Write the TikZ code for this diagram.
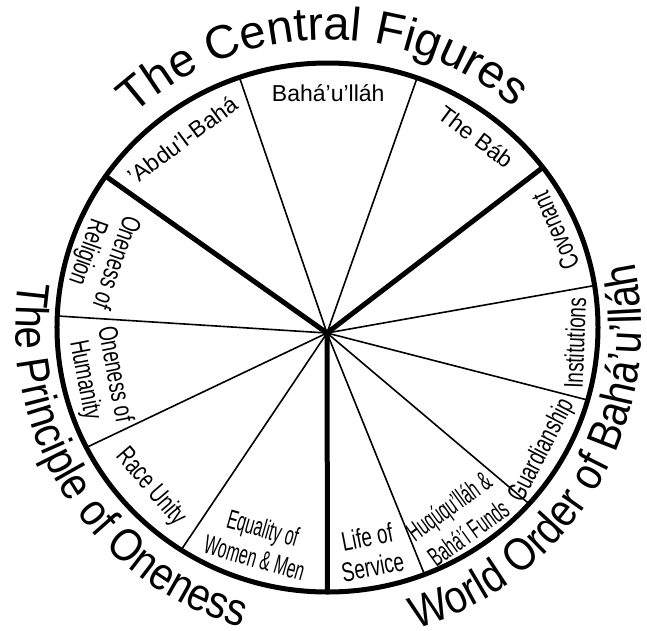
\documentclass[tikz,border=0pt]{standalone}
\usepackage{fontspec}
\setmainfont{Liberation Sans}
\newfontfamily\narrowsf{Liberation Sans}[FakeStretch=0.70]
\newfontfamily\narrowersf{Liberation Sans}[FakeStretch=0.58]
\newfontfamily\arcsf{Liberation Sans}[FakeStretch=0.87]
\newcommand\toparcfont{\fontsize{47}{50}\selectfont}
\newcommand\lowarcfont{\arcsf\fontsize{46}{50}\selectfont}
\usetikzlibrary{calc,decorations.text}

\begin{document}
\begin{tikzpicture}[
        x=1pt, y=1pt,
        rim/.style={line width=5pt},
        mainspoke/.style={line width=5pt},
        spoke/.style={line width=1.6pt},
        toplbl/.style={font=\fontsize{23}{26}\selectfont, inner sep=0pt},
        lbl/.style={font=\narrowsf\fontsize{27}{30}\selectfont, align=center, inner sep=0pt},
        tightlbl/.style={font=\narrowersf\fontsize{27}{31}\selectfont, align=center, inner sep=0pt}
    ]
        \useasboundingbox (-327,-297) rectangle (320,333);

        % Hub and wheel centre
        \coordinate (hub) at (0,0);
        \coordinate (c) at (0.5,5.5);

        % Spoke ends on the rim
        \coordinate (end1) at ($(c)+(145.1:270.5pt and 264.5pt)$);
        \coordinate (end2) at ($(c)+(109.0:270.5pt and 264.5pt)$);
        \coordinate (end3) at ($(c)+(70.66:270.5pt and 264.5pt)$);
        \coordinate (end4) at ($(c)+(37.24:270.5pt and 264.5pt)$);
        \coordinate (end5) at ($(c)+(9.13:270.5pt and 264.5pt)$);
        \coordinate (end6) at ($(c)+(-15.92:270.5pt and 264.5pt)$);
        \coordinate (end7) at ($(c)+(-41.81:270.5pt and 264.5pt)$);
        \coordinate (end8) at ($(c)+(-68.99:270.5pt and 264.5pt)$);
        \coordinate (end9) at ($(c)+(-90:270.5pt and 264.5pt)$);
        \coordinate (end10) at ($(c)+(237.25:270.5pt and 264.5pt)$);
        \coordinate (end11) at ($(c)+(206.97:270.5pt and 264.5pt)$);
        \coordinate (end12) at ($(c)+(177.5:270.5pt and 264.5pt)$);

        % Spokes
        \draw[spoke] (hub) -- (end2);
        \draw[spoke] (hub) -- (end3);
        \draw[spoke] (hub) -- (end5);
        \draw[spoke] (hub) -- (end6);
        \draw[spoke] (hub) -- (end7);
        \draw[spoke] (hub) -- (end8);
        \draw[spoke] (hub) -- (end10);
        \draw[spoke] (hub) -- (end11);
        \draw[spoke] (hub) -- (end12);
        \draw[mainspoke] (hub) -- (end1);
        \draw[mainspoke] (hub) -- (end4);
        \draw[mainspoke] (hub) -- (end9);

        % Rim
        \draw[rim] (c) ellipse [x radius=270.5pt, y radius=264.5pt];

        % Sector labels
        \node[toplbl, rotate=36.8] (abdul) at (126.8:241) {’Abdu’l-Bahá};
        \node[toplbl] (bahaullah) at (89.7:240) {Bahá’u’lláh};
        \node[toplbl, rotate=-37] (bab) at (52.8:246.5) {The Báb};
        \node[lbl, rotate=113.8] (covenant) at (24.1:250) {Covenant};
        \node[lbl, rotate=87.85] (institutions) at (-2.3:248) {Institutions};
        \node[lbl, rotate=62.7] (guardianship) at (-28.7:245) {Guardianship};
        \node[tightlbl, rotate=35.9, font=\narrowersf\fontsize{27}{33}\selectfont] (huquq) at (-54.8:228) {Huqúqu’lláh \&\\Bahá’í Funds};
        \node[lbl, rotate=11] (service) at (-78.9:223) {Life of\\Service};
        \node[tightlbl, rotate=-16] (equality) at (252:220.5) {Equality of\\Women \& Men};
        \node[lbl, rotate=-49.25] (race) at (221.2:234) {Race Unity};
        \node[lbl, rotate=-79.1] (humanity) at (191:232) {Oneness of\\Humanity};
        \node[lbl, rotate=-109.5] (religion) at (161.4:238.5) {Oneness of\\Religion};

        % Titles round the rim
        \path[decorate, decoration={text along path, text align=center,
            text={|\toparcfont|The Central Figures}}]
            (c) ++(181:288pt) arc[start angle=181, end angle=1, radius=288pt];
        \path[decorate, decoration={text along path, text align=center,
            text={|\lowarcfont|The Principle of Oneness}}]
            (c) ++(152.7:312pt) arc[start angle=152.7, end angle=272.7, radius=312pt];
        \path[decorate, decoration={text along path, text align=center,
            text={|\lowarcfont|World Order of Bahá’u’lláh}}]
            (c) ++(-90.8:314pt) arc[start angle=-90.8, end angle=29.2, radius=314pt];
    \end{tikzpicture}
\end{document}
